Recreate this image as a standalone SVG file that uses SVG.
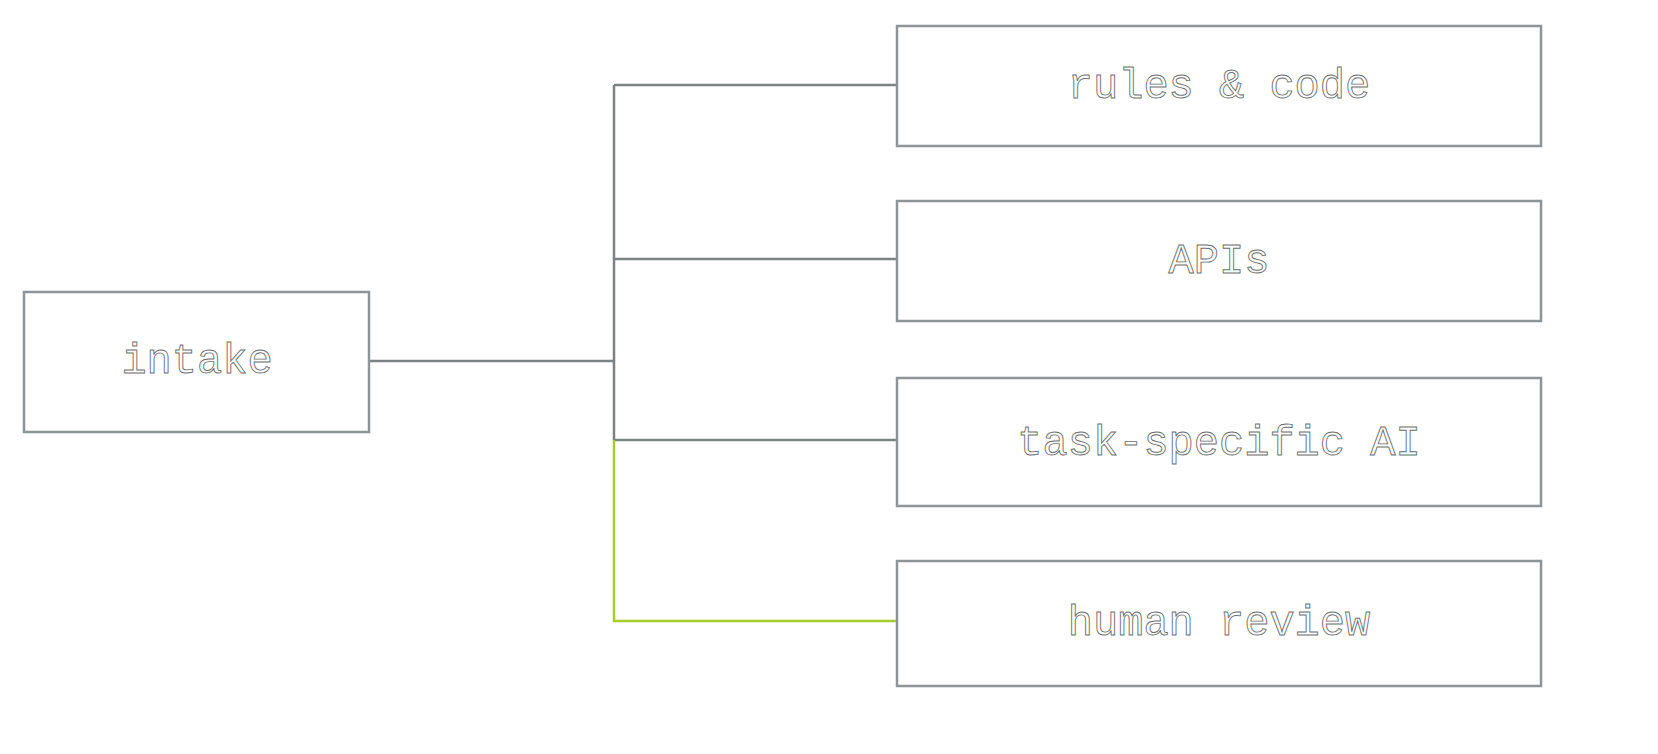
<svg xmlns="http://www.w3.org/2000/svg" width="1658" height="754" viewBox="0 0 1658 754">
<style>
.box{fill:#fff;stroke:#8f9596;stroke-width:2.5}
.t{font-family:"Liberation Mono","DejaVu Sans Mono",monospace;font-size:42px;fill:#fff;stroke:#6a6e70;stroke-width:0.9;text-anchor:middle;dominant-baseline:central}
.c{fill:none;stroke:#7d8385;stroke-width:2.5}
.g{fill:none;stroke:#a8cc2c;stroke-width:2.5}
</style>
<rect width="1658" height="754" fill="#fff"/>
<g id="connectors">
<path class="c" d="M369 361H614M614 85V440M614 85H897M614 259H897M614 440H897"/>
<path class="g" d="M614 440V621H897"/>
</g>
<g id="intake"><rect class="box" x="24" y="292" width="345" height="140"/><text class="t" x="197" y="362">intake</text></g>
<g id="rules"><rect class="box" x="897" y="26" width="644" height="120"/><text class="t" x="1219" y="87">rules &amp; code</text></g>
<g id="apis"><rect class="box" x="897" y="201" width="644" height="120"/><text class="t" x="1219" y="262">APIs</text></g>
<g id="ai"><rect class="box" x="897" y="378" width="644" height="128"/><text class="t" x="1219" y="444">task-specific AI</text></g>
<g id="human"><rect class="box" x="897" y="561" width="644" height="125"/><text class="t" x="1219" y="624">human review</text></g>
</svg>
